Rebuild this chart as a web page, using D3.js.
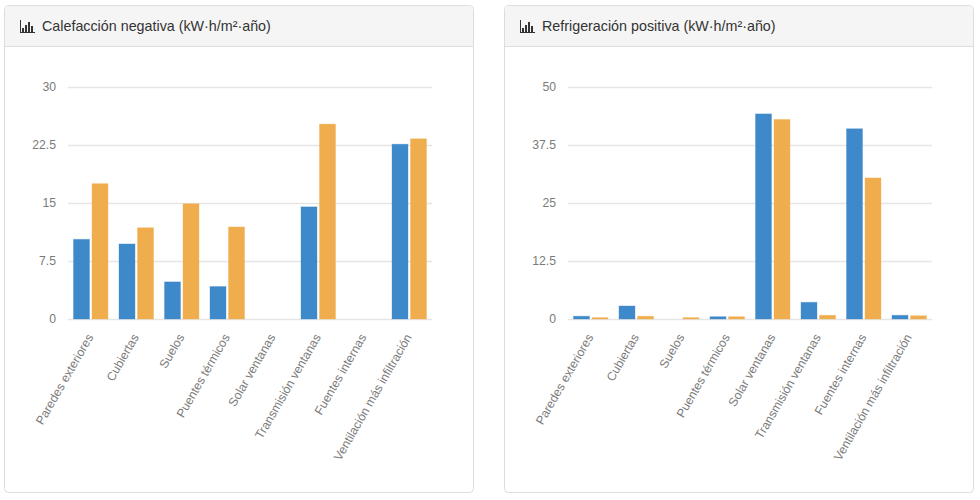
<!DOCTYPE html>
<html><head><meta charset="utf-8">
<script src="https://cdn.jsdelivr.net/npm/d3@7/dist/d3.min.js"></script>
<style>html,body{margin:0;background:#fff}svg{display:block;font-family:"Liberation Sans",Arial,sans-serif}</style>
</head><body><svg id="c" width="980" height="500"></svg>
<script>
const categories=["Paredes exteriores","Cubiertas","Suelos","Puentes térmicos","Solar ventanas","Transmisión ventanas","Fuentes internas","Ventilación más infiltración"];
const heatTitle="Calefacción negativa (kW·h/m²·año)";
const heatBlue=[10.3,9.7,4.8,4.2,0,14.5,0,22.6];
const heatOrange=[17.5,11.8,14.9,11.9,0,25.2,0,23.3];
const heatTicks=[0,7.5,15,22.5,30];
const coolTitle="Refrigeración positiva (kW·h/m²·año)";
const coolBlue=[0.6,2.8,0,0.5,44.2,3.6,41,0.8];
const coolOrange=[0.3,0.6,0.3,0.5,43,0.8,30.4,0.7];
const coolTicks=[0,12.5,25,37.5,50];
const svg=d3.select("#c");
function panel(ox,cw,plotL,title,blue,orange,ticks){
  const g=svg.append("g");
  g.append("rect").attr("x",ox+.5).attr("y",5.5).attr("width",cw).attr("height",487).attr("rx",4).attr("fill","#fff").attr("stroke","#ddd");
  g.append("path").attr("d",`M${ox+1} 46V10a4 4 0 0 1 4-4H${ox+cw-4}a4 4 0 0 1 4 4V46Z`).attr("fill","#f5f5f5");
  g.append("line").attr("x1",ox+1).attr("x2",ox+cw).attr("y1",46.5).attr("y2",46.5).attr("stroke","#ddd");
  const ix=ox+16, ic=g.append("g").attr("fill","#333");
  ic.append("rect").attr("x",ix).attr("y",20).attr("width",1).attr("height",13);
  ic.append("rect").attr("x",ix).attr("y",32).attr("width",15).attr("height",1);
  [[2,28,4],[5,25,7],[8,22,10],[11,26,6]].forEach(d=>ic.append("rect").attr("x",ix+d[0]).attr("y",d[1]).attr("width",2).attr("height",d[2]));
  g.append("text").attr("x",ox+38).attr("y",31).attr("font-size",14.3).attr("fill","#333").text(title);
  const x=d3.scaleBand().domain(categories).range([plotL,plotL+364]);
  const y=d3.scaleLinear().domain([0,ticks[ticks.length-1]]).range([319,87]);
  const ya=g.append("g").attr("transform",`translate(${plotL},0)`).call(d3.axisLeft(y).tickValues(ticks).tickSize(0).tickPadding(12).tickFormat(d=>String(d)));
  ya.select(".domain").remove();
  ya.selectAll("text").attr("font-family","inherit").attr("font-size",12.2).attr("fill","#7a7a7a");
  ya.selectAll(".tick line").attr("x1",0).attr("x2",364).attr("stroke","#e5e5e5").attr("stroke-width",1.5);
  const inner=d3.scaleBand().domain([0,1]).range([5.5,40]).paddingInner(0.135);
  [[blue,"#3e89c9",0],[orange,"#f0ad4e",1]].forEach(([vals,col,i])=>{
    g.append("g").selectAll("rect").data(vals).join("rect")
      .attr("x",(d,k)=>x(categories[k])+inner(i))
      .attr("width",inner.bandwidth())
      .attr("y",d=>y(d))
      .attr("height",d=>y(0)-y(d))
      .attr("fill",col)
      .attr("stroke",d=>d>0?col:"none").attr("stroke-opacity",.35);
  });
  const xa=g.append("g").attr("transform","translate(0,319)").call(d3.axisBottom(x).tickSize(0).tickPadding(0));
  xa.select(".domain").remove();
  xa.selectAll("text").attr("font-family","inherit").attr("font-size",12.2).attr("fill","#7a7a7a")
    .attr("text-anchor","end").attr("dy",0)
    .attr("transform","translate(3,18) rotate(-60)").attr("x",0).attr("y",0);
}
panel(4,469,68,heatTitle,heatBlue,heatOrange,heatTicks);
panel(504,469,568,coolTitle,coolBlue,coolOrange,coolTicks);
</script></body></html>
